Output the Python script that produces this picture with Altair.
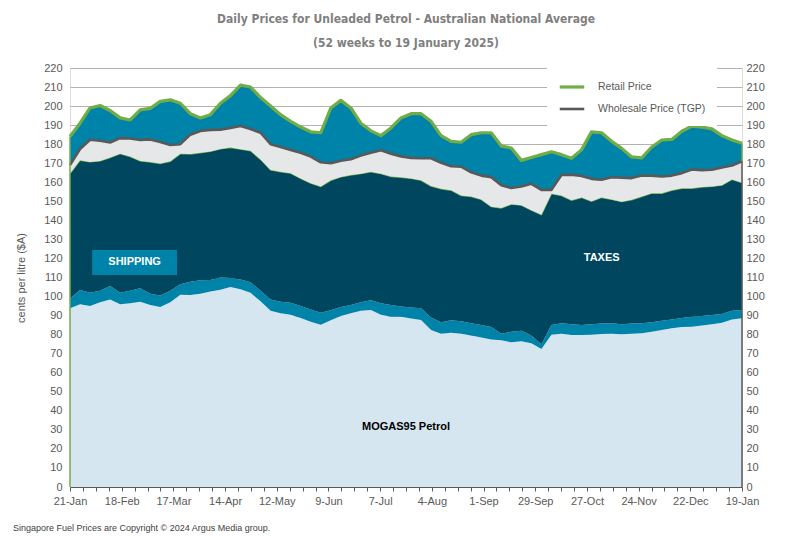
import altair as alt
import pandas as pd

# ---- data (cents per litre) ----
retail = [184, 191, 199, 200.3, 197.7, 193.8, 192.7, 198, 198.8, 202.5,
          203.3, 201.5, 196, 193.8, 195.5, 201.5, 205.5, 211, 210, 204.5,
          200, 195.5, 192, 189, 186.5, 186, 199, 203, 199, 191,
          187, 184.5, 188.5, 193.8, 196, 196, 192, 184.5, 181.5, 181,
          185, 186, 186, 179, 178, 171.5, 173, 174.5, 176, 174.5,
          172.6, 177, 186.5, 186, 181.5, 177.8, 173.3, 172.8, 178.5, 182.2,
          182.5, 186.8, 189.5, 189, 188, 184.5, 182.2, 180.5]
tgp = [169, 177.5, 182.3, 181.8, 180.9, 183.2, 183, 182.2, 182.5, 181.2,
       179.6, 180, 185, 186.9, 187.5, 187.6, 188.5, 189.5, 188, 186,
       180, 178.5, 177, 175.5, 173.5, 170.5, 170, 171.3, 172.1, 174,
       175.5, 176.8, 175, 173.6, 172.8, 172.6, 172.6, 170.2, 168.4, 168.2,
       165.2, 163.5, 162.7, 158.5, 157, 157.8, 159.2, 156, 156, 163.8,
       164, 163.3, 161.8, 161.3, 162.6, 162.4, 162.2, 163.5, 163.5, 163,
       163.5, 164.8, 166.7, 166.4, 166.6, 167.8, 168.8, 171]
taxes_top = [164.6, 171.5, 170.7, 171.2, 173, 175, 173.5, 171.2, 170.6, 169.8,
             171, 175, 174.8, 175.5, 176.2, 177.5, 178.2, 177.4, 176.5, 172,
             166.5, 165.5, 164.8, 162, 159.5, 157.8, 161, 162.8, 163.8, 164.5,
             165.5, 164.5, 163, 162.6, 162, 161, 158, 156.6, 155.8, 153,
             152.5, 151, 147.2, 146.5, 148.5, 148, 145.3, 143, 154, 153,
             150.5, 152, 150, 152, 151, 149.8, 150.8, 152.5, 154.3, 154.2,
             155.8, 156.8, 156.8, 157.5, 157.8, 158.5, 161.5, 159.8]
shipping_top = [99, 103.5, 102, 103, 105.5, 102, 103, 104.3, 101.5, 100.5,
                103, 106.5, 107.8, 108.5, 108.7, 110, 109.8, 109, 107.5, 103,
                98.5, 97.3, 96.7, 95, 93.2, 91.5, 92.8, 94.5, 95.6, 97,
                98, 96.5, 95.5, 94.8, 94.3, 93.8, 89, 86.5, 87.5, 87,
                86, 85, 84, 80.5, 81.5, 82, 79.5, 75, 85, 86,
                85.5, 85, 85.5, 85.8, 86, 85.5, 85.8, 86, 86.5, 87.3,
                88, 88.8, 89.4, 89.8, 90.3, 90.8, 92.5, 93]
mogas = [93.8, 96, 95, 97, 98.5, 96, 96.5, 97.3, 95.6, 94.5,
         97, 101, 100.8, 101.5, 102.6, 103.6, 105, 103.8, 102, 97.5,
         92.5, 91.2, 90.5, 88.8, 86.8, 85.2, 87.5, 89.8, 91.2, 92.5,
         93, 90.5, 89.4, 89.4, 88.5, 87.7, 82.5, 80.5, 81, 80.5,
         79.5, 78.5, 77.5, 77, 76, 76.5, 75.5, 72.5, 80, 80.5,
         79.8, 79.8, 80, 80.3, 80.5, 80.2, 80.5, 80.7, 81.5, 82.5,
         83.3, 84, 84.2, 84.8, 85.5, 86.3, 88, 88.6]

dates = pd.date_range("2024-01-21", "2025-01-19", periods=len(retail))

ann_text = ["SHIPPING", "TAXES", "MOGAS95 Petrol"]
ann_date = ["2024-02-25", "2024-11-04", "2024-07-21"]
ann_value = [118, 120.5, 31.5]
ann_color = ["white", "white", "black"]

ship_box_start = ["2024-02-02"]
ship_box_end = ["2024-03-19"]
ship_box_lo = [111.3]
ship_box_hi = [124.4]

series_names = ["Retail Price", "Wholesale Price (TGP)"]

GREEN = "#70AD47"
GREY = "#595959"
FONT = "Liberation Sans"
TITLE_FONT = "'Liberation Sans Narrow', 'DejaVu Sans Condensed', 'Roboto Condensed', 'Liberation Sans', sans-serif"

df = pd.DataFrame({
    "date": dates,
    "mogas": mogas,
    "ship": shipping_top,
    "taxes": taxes_top,
    "Wholesale Price (TGP)": tgp,
    "Retail Price": retail,
})

edges = pd.DataFrame({
    "date": [dates[0], dates[-1], dates[-1]],
    "lo": [0, tgp[-1], 0],
    "hi": [retail[0], retail[-1], tgp[-1]],
    "col": [GREEN, GREEN, GREY],
})

ann = pd.DataFrame({"date": pd.to_datetime(ann_date), "value": ann_value,
                    "text": ann_text, "color": ann_color})
box = pd.DataFrame({"date": pd.to_datetime(ship_box_start), "date_end": pd.to_datetime(ship_box_end),
                    "lo": ship_box_lo, "hi": ship_box_hi})

ydom = alt.Scale(domain=[0, 220], nice=False, zero=True)
week_values = [alt.DateTime(year=d.year, month=d.month, date=d.day)
               for d in pd.date_range("2024-01-21", "2025-01-19", freq="7D")]

xaxis = alt.Axis(
    values=week_values,
    labelExpr="(round((datum.value - datetime(2024,0,21)) / 604800000) % 4 == 0) ? timeFormat(datum.value, '%-d-%b') : ''",
    title=None, grid=False, domainColor=GREY, tickColor=GREY, tickSize=4,
    labelColor=GREY, labelFontSize=11, labelFont=FONT, labelPadding=4,
    labelFlush=False, labelOverlap=False,
)
xenc = alt.X("date:T", axis=xaxis,
             scale=alt.Scale(domain=[alt.DateTime(year=2024, month=1, date=21),
                                     alt.DateTime(year=2025, month=1, date=19)], nice=False))

left_axis = alt.Axis(
    values=list(range(0, 230, 10)), title="cents per litre ($A)", orient="left",
    grid=True, gridColor="#B3B3B3", gridWidth=1, domain=False, ticks=False,
    labelColor=GREY, labelFontSize=11, labelFont=FONT, labelPadding=8,
    titleColor=GREY, titleFontSize=11, titleFont=FONT, titleFontWeight="normal",
    titlePadding=17,
)
right_axis = alt.Axis(
    values=list(range(0, 230, 10)), title=None, orient="right",
    grid=False, domain=False, ticks=False,
    labelColor=GREY, labelFontSize=11, labelFont=FONT, labelPadding=4,
)

base = alt.Chart(df)

mog = base.mark_area(color="#D5E6F0").encode(
    x=xenc, y=alt.Y("mogas:Q", scale=ydom, axis=left_axis))
shp = base.mark_area(color="#0083A9").encode(
    x=xenc, y=alt.Y("ship:Q", scale=ydom, axis=right_axis), y2="mogas:Q")
tax = base.mark_area(color="#00465F").encode(
    x=xenc, y=alt.Y("taxes:Q", scale=ydom, axis=None), y2="ship:Q")
tax_line = base.mark_line(color=GREEN, strokeWidth=1.3).encode(
    x=xenc, y=alt.Y("taxes:Q", scale=ydom, axis=None))
whl = base.mark_area(color="#E6E7E9").encode(
    x=xenc, y=alt.Y("Wholesale Price (TGP):Q", scale=ydom, axis=None), y2="taxes:Q")
ret = base.mark_area(color="#0083A9").encode(
    x=xenc, y=alt.Y("Retail Price:Q", scale=ydom, axis=None), y2="Wholesale Price (TGP):Q")

lines = base.transform_fold(series_names, as_=["series", "price"]).mark_line(
    strokeJoin="round").encode(
    x=xenc,
    y=alt.Y("price:Q", scale=ydom, axis=None),
    color=alt.Color("series:N", scale=alt.Scale(domain=series_names, range=[GREEN, GREY]),
                    legend=alt.Legend(
                        title=None, orient="none", legendX=477, legendY=-6,
                        fillColor="white", padding=11, symbolType="stroke",
                        symbolStrokeWidth=3.5, symbolSize=600, labelFont=FONT,
                        labelFontSize=10.5, labelColor=GREY, labelOffset=12,
                        rowPadding=1)),
    strokeWidth=alt.StrokeWidth("series:N", scale=alt.Scale(domain=series_names, range=[3.2, 2.6]),
                                legend=None),
)

edge = alt.Chart(edges).mark_rule(strokeWidth=1.5).encode(
    x=xenc, y=alt.Y("lo:Q", scale=ydom, axis=None), y2="hi:Q",
    color=alt.Color("col:N", scale=None),
)

boxm = alt.Chart(box).mark_rect(color="#0083A9").encode(
    x=xenc, x2="date_end:T",
    y=alt.Y("lo:Q", scale=ydom, axis=None), y2="hi:Q")

txt = alt.Chart(ann).mark_text(font=FONT, fontWeight="bold", fontSize=11).encode(
    x=xenc, y=alt.Y("value:Q", scale=ydom, axis=None),
    text="text:N", color=alt.Color("color:N", scale=None))

foot = alt.Chart(pd.DataFrame({"t": ["Singapore Fuel Prices are Copyright \u00a9 2024 Argus Media group."]})).mark_text(
    align="left", baseline="middle", font=FONT, fontSize=9, color="#404040").encode(
    x=alt.value(-57), y=alt.value(460), text="t:N")

chart = alt.layer(mog, shp, tax, tax_line, whl, ret, lines, edge, boxm, txt, foot).resolve_axis(
    y="independent").properties(
    width=672, height=419,
    padding={"left": 5, "top": 5, "right": 5, "bottom": 5},
    title=alt.TitleParams(
        text="Daily  Prices for Unleaded  Petrol  - Australian  National  Average",
        subtitle="(52 weeks to 19 January 2025)",
        font=TITLE_FONT, fontSize=12, fontWeight="bold", color="#7F7F7F",
        subtitleFont=TITLE_FONT, subtitleFontSize=12, subtitleFontWeight="bold",
        subtitleColor="#7F7F7F", subtitlePadding=12, anchor="middle", offset=12,
    ),
).configure_view(stroke=None).configure(background="white")

chart.save("out.html", embed_options={"renderer": "svg", "actions": False})
